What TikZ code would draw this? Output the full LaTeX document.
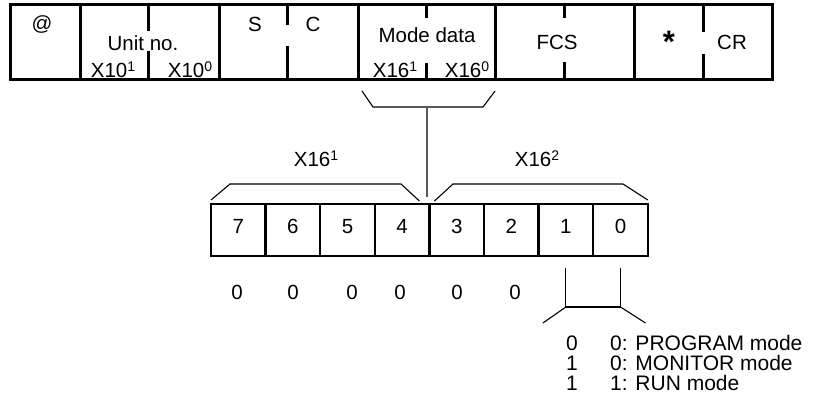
\documentclass[tikz,border=0pt]{standalone}
\usepackage{fontspec}
\setmainfont{Liberation Sans}
\usetikzlibrary{calc}
\newcommand{\supr}[1]{\raisebox{6.5pt}{\fontsize{14}{14}\selectfont #1}}
\begin{document}
\begin{tikzpicture}[x=1pt,y=-1pt,
  every node/.style={font=\fontsize{20.5}{21}\selectfont},
  cell/.style={draw, line width=3pt, minimum height=75pt, inner sep=0pt, outer sep=0pt},
  bitbox/.style={draw, line width=2.5pt, minimum width=54.6pt, minimum height=52pt, inner sep=0pt, outer sep=0pt},
  tickline/.style={line width=3pt},
  thinline/.style={line width=1.1pt},
  linkline/.style={line width=1.6pt, draw=black!65},
  lbl/.style={anchor=base, inner sep=0pt},
  modetext/.style={lbl, font=\fontsize{21}{21}\selectfont}]
\useasboundingbox (0,0) rectangle (813,398);

% ---- frame cells
\node[cell, minimum width=70pt]  (c1) at (45,42.5) {};
\node[cell, minimum width=139pt] (c2) at (149.5,42.5) {};
\node[cell, minimum width=139pt] (c3) at (288.5,42.5) {};
\node[cell, minimum width=137pt] (c4) at (426.5,42.5) {};
\node[cell, minimum width=139pt] (c5) at (564.5,42.5) {};
\node[cell, minimum width=138pt] (c6) at (703,42.5) {};

% ---- partial dividers
\draw[tickline] ($(c2.north)+(-1.5,0)$) -- ++(0,26);
\draw[tickline] ($(c2.south)+(-1.5,0)$) -- ++(0,-29);
\draw[tickline] ($(c3.north)+(-1.5,0)$) -- ++(0,20);
\draw[tickline] ($(c3.south)+(-1.5,0)$) -- ++(0,-34);
\draw[tickline] (c4.north) -- ++(0,13);
\draw[tickline] (c4.south) -- ++(0,-17);
\draw[tickline] (c5.north) -- ++(0,13);
\draw[tickline] (c5.south) -- ++(0,-18);
\draw[tickline] (c6.north) -- ++(0,27);
\draw[tickline] (c6.south) -- ++(0,-26);

% ---- frame texts
\node[lbl] (tat) at (42,31) {@};
\node[lbl] (tunit) at (143,51) {Unit no.};
\node[lbl] (tu1) at (113,78) {X10\supr{1}};
\node[lbl] (tu0) at (190,78) {X10\supr{0}};
\node[lbl] (ts) at (255,32) {S};
\node[lbl] (tc) at (313,32) {C};
\node[lbl] (tmode) at (427,43) {Mode data};
\node[lbl] (tm1) at (395,78) {X16\supr{1}};
\node[lbl] (tm0) at (467,78) {X16\supr{0}};
\node[lbl] (tfcs) at (557,50) {FCS};
\node[inner sep=0pt] (tstar) at (669,42) {\fontsize{31}{31}\selectfont\bfseries *};
\node[lbl] (tcr) at (732,50) {CR};

% ---- brace under mode data
\coordinate (mb) at (427,107);
\draw[thinline] ($(c4.south west)+(4,11)$) -- (373,107) -- (483,107) -- ($(c4.south east)+(0,11)$);

% ---- bit boxes
\foreach \b [count=\i from 0] in {7,6,5,4,3,2,1,0}{
  \node[bitbox] (b\b) at ({211+54.6*(\i+0.5)},230) {};
  \node[lbl] (t\b) at ($(b\b.center)+(0,3.5)$) {\b};
}

% ---- braces above bits
\draw[thinline] ($(b7.north west)+(0,-4)$) -- (230,184) -- (401,184) -- ($(b4.north east)+(-10,-3)$);
\draw[thinline] ($(b3.north west)+(5,-3)$) -- (453,184) -- (623,184) -- ($(b0.north east)+(0,-4)$);
\node[lbl] (th1) at (316,167) {X16\supr{1}};
\node[lbl] (th2) at (537,167) {X16\supr{2}};

% ---- link from mode data to bits
\coordinate (bt) at ($(b4.north east)+(0,-7)$);
\draw[linkline] (mb) -- (mb |- bt);

% ---- zeros under bits 7..2
\foreach \b/\x in {7/237,6/293,5/352,4/400,3/457,2/515}{
  \node[lbl] (z\b) at (\x,299) {0};
}

% ---- bracket under bits 1 and 0
\coordinate (k1) at ($(b1.south)+(0,12)$);
\coordinate (k0) at ($(b0.south)+(0,12)$);
\coordinate (k1b) at ($(b1.south)+(0,51)$);
\coordinate (k0b) at ($(b0.south)+(0,51)$);
\draw[thinline] (k1) -- (k1b) -- (k0b) -- (k0);
\draw[thinline] (k1b) -- ++(-23,16);
\draw[thinline] (k0b) -- ++(25,16);

% ---- mode table
\node[modetext] (m1a) at (572,350) {0};
\node[modetext] (m2a) at (572,370) {1};
\node[modetext] (m3a) at (572,390) {1};
\node[modetext, anchor=base west] (m1b) at (610,350) {0: PROGRAM mode};
\node[modetext, anchor=base west] (m2b) at (610,370) {0: MONITOR mode};
\node[modetext, anchor=base west] (m3b) at (610,390) {1: RUN mode};
\end{tikzpicture}
\end{document}
